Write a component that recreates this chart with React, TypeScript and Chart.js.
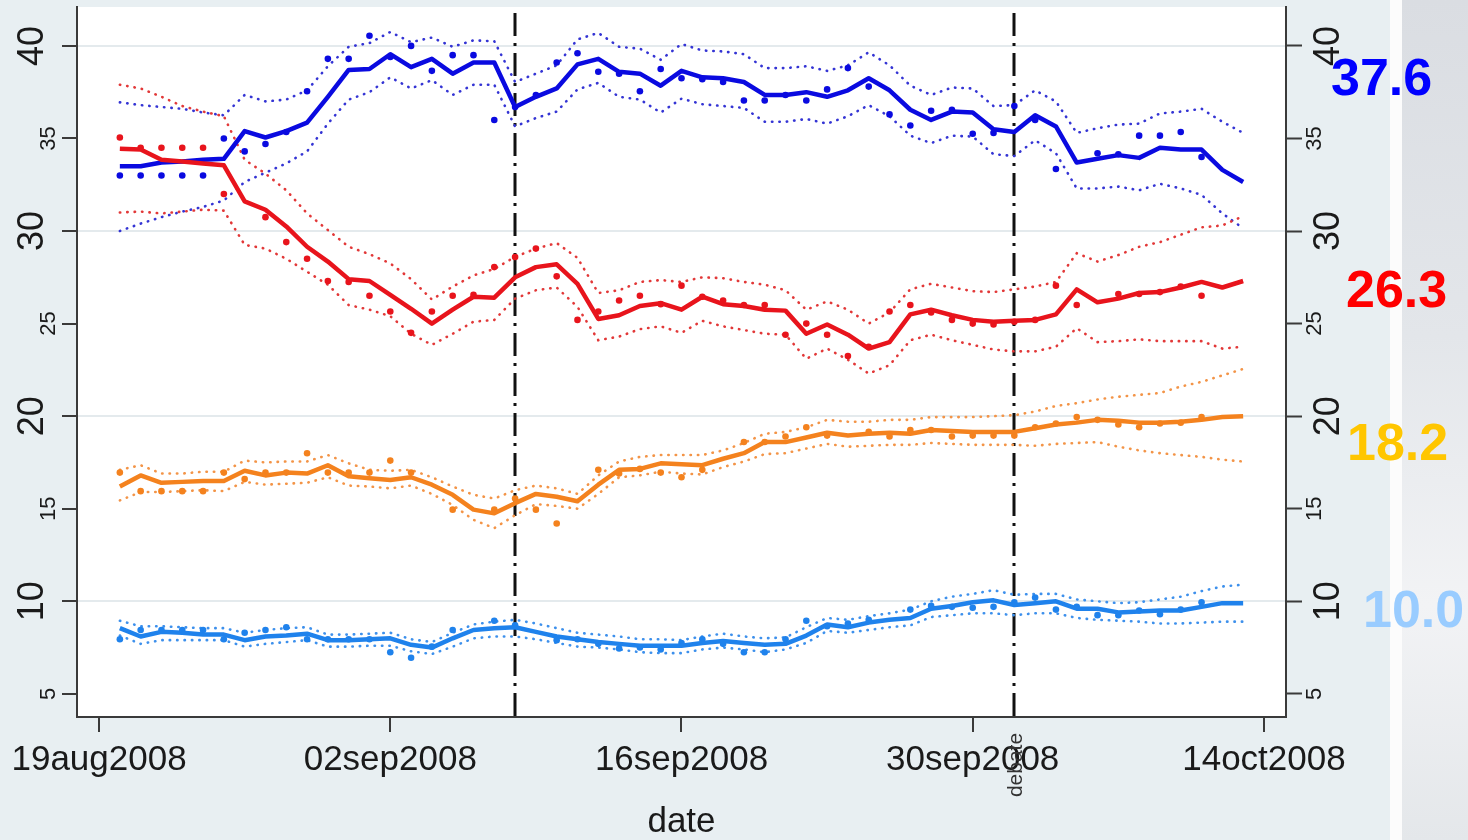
import { useEffect, useRef } from "react";
import { Chart, registerables } from "chart.js";

Chart.register(...registerables);

// ---------- DATA ----------
const pollDates = [
  "2008-08-20", "2008-08-21", "2008-08-22", "2008-08-23", "2008-08-24", "2008-08-25", "2008-08-26",
  "2008-08-27", "2008-08-28", "2008-08-29", "2008-08-30", "2008-08-31",
  "2008-09-01", "2008-09-02", "2008-09-03", "2008-09-04", "2008-09-05", "2008-09-06", "2008-09-07",
  "2008-09-08", "2008-09-09", "2008-09-10", "2008-09-11", "2008-09-12", "2008-09-13", "2008-09-14",
  "2008-09-15", "2008-09-16", "2008-09-17", "2008-09-18", "2008-09-19", "2008-09-20", "2008-09-21",
  "2008-09-22", "2008-09-23", "2008-09-24", "2008-09-25", "2008-09-26", "2008-09-27", "2008-09-28",
  "2008-09-29", "2008-09-30",
  "2008-10-01", "2008-10-02", "2008-10-03", "2008-10-04", "2008-10-05", "2008-10-06", "2008-10-07",
  "2008-10-08", "2008-10-09", "2008-10-10", "2008-10-11", "2008-10-12", "2008-10-13",
];

const tickDates = ["2008-08-19", "2008-09-02", "2008-09-16", "2008-09-30", "2008-10-14"];
const tickLabels = ["19aug2008", "02sep2008", "16sep2008", "30sep2008", "14oct2008"];
const eventDates = ["2008-09-08", "2008-10-02"];
const eventLabels = ["", "debate"];
const yTicks = [5, 10, 15, 20, 25, 30, 35, 40];
const yMajor = [10, 20, 30, 40];
const xTitle = "date";

const cpcMean = [33.5, 33.5, 33.7, 33.75, 33.85, 33.9, 35.4, 35.05, 35.4, 35.85,
  37.25, 38.7, 38.75, 39.55, 38.85, 39.3, 38.5, 39.1, 39.1, 36.7,
  37.25, 37.7, 39.0, 39.3, 38.6, 38.5, 37.85, 38.65, 38.3, 38.25,
  38.05, 37.35, 37.35, 37.5, 37.25, 37.6, 38.25, 37.6, 36.55, 36.0,
  36.45, 36.4, 35.5, 35.35, 36.25, 35.65, 33.7, 33.9, 34.1, 33.95,
  34.5, 34.4, 34.4, 33.3, 32.65];
const cpcHi = [36.95, 36.8, 36.7, 36.6, 36.4, 36.25, 37.35, 37.0, 37.1, 37.6,
  38.9, 39.95, 40.15, 40.75, 40.2, 40.45, 39.95, 40.3, 40.25, 38.05,
  38.5, 38.95, 40.35, 40.7, 39.95, 39.85, 39.25, 40.1, 39.75, 39.7,
  39.55, 38.8, 38.8, 38.9, 38.65, 38.95, 39.65, 38.95, 37.85, 37.35,
  37.75, 37.7, 36.75, 36.8, 37.6, 37.0, 35.3, 35.55, 35.75, 35.8,
  36.35, 36.45, 36.6, 35.9, 35.3];
const cpcLo = [30.0, 30.4, 30.75, 31.05, 31.3, 31.65, 32.65, 33.15, 33.65, 34.3,
  35.8, 37.1, 37.5, 38.3, 37.7, 38.15, 37.35, 37.9, 37.9, 35.65,
  36.1, 36.45, 37.65, 38.0, 37.25, 37.1, 36.4, 37.15, 36.85, 36.75,
  36.65, 35.9, 35.9, 36.05, 35.8, 36.2, 36.8, 36.2, 35.15, 34.75,
  35.15, 35.1, 34.15, 34.05, 34.9, 34.2, 32.3, 32.3, 32.4, 32.2,
  32.55, 32.3, 31.95, 30.95, 30.15];
const cpcPolls = [33, 33, 33, 33, 33, 35.0, 34.3, 34.7, 35.35, 37.55,
  39.3, 39.3, 40.55, 39.4, 40.0, 38.65, 39.5, 39.5, 36.0, 36.7,
  37.35, 39.1, 39.6, 38.6, 38.5, 37.55, 38.75, 38.25, 38.2, 38.05,
  37.05, 37.05, 37.35, 37.05, 37.65, 38.8, 37.8, 36.3, 35.7, 36.5,
  36.55, 35.25, 35.3, 36.75, 36.0, 33.35, null, 34.2, 34.15, 35.15,
  35.15, 35.35, 34.0, null, null];

const lpcMean = [34.45, 34.4, 33.85, 33.75, 33.65, 33.55, 31.6, 31.15, 30.25, 29.15,
  28.35, 27.4, 27.3, 26.55, 25.8, 25.0, 25.75, 26.45, 26.4, 27.5,
  28.05, 28.2, 27.15, 25.25, 25.45, 25.95, 26.1, 25.75, 26.45, 26.05,
  25.95, 25.75, 25.7, 24.45, 24.95, 24.4, 23.65, 24.0, 25.5, 25.75,
  25.45, 25.2, 25.1, 25.15, 25.2, 25.5, 26.85, 26.15, 26.35, 26.65,
  26.7, 26.95, 27.25, 26.95, 27.3];
const lpcHi = [37.9, 37.7, 37.25, 36.75, 36.45, 36.2, 33.85, 33.1, 32.2, 30.95,
  30.05, 29.15, 28.75, 28.25, 27.4, 26.3, 27.0, 27.6, 27.95, 28.6,
  29.05, 29.35, 28.55, 26.65, 26.8, 27.25, 27.35, 27.25, 27.5, 27.45,
  27.25, 27.1, 26.8, 25.75, 26.2, 25.75, 25.0, 25.6, 26.85, 27.15,
  26.95, 26.75, 26.7, 26.85, 27.0, 27.25, 28.8, 28.35, 28.7, 29.15,
  29.4, 29.8, 30.2, 30.3, 30.8];
const lpcLo = [31.0, 31.05, 30.95, 31.05, 31.15, 31.1, 29.25, 29.05, 28.5, 27.8,
  27.1, 26.0, 25.75, 25.4, 24.45, 23.85, 24.45, 25.1, 25.2, 26.35,
  26.8, 26.95, 25.9, 24.1, 24.3, 24.7, 24.85, 24.5, 25.15, 24.85,
  24.65, 24.45, 24.4, 23.1, 23.65, 23.05, 22.3, 22.75, 24.1, 24.4,
  24.1, 23.85, 23.6, 23.5, 23.5, 23.75, 24.75, 24.0, 24.05, 24.15,
  24.05, 24.05, 24.05, 23.65, 23.75];
const lpcPolls = [35.05, 34.5, 34.5, 34.5, 34.5, 32.0, null, 30.75, 29.4, 28.5,
  27.3, 27.25, 26.5, 25.65, 24.5, 25.65, 26.5, 26.55, 28.05, 28.6,
  29.05, 27.55, 25.2, 25.65, 26.25, 26.5, 26.05, 27.05, 26.45, 26.25,
  26.0, 26.0, 24.4, 25.0, 24.4, 23.25, 23.75, 25.65, 26.0, 25.6,
  25.2, 25.0, 24.95, 25.1, 25.2, 27.05, 26.0, null, 26.6, 26.6,
  26.7, 27.0, 26.5, null, null];

const ndpMean = [16.2, 16.8, 16.4, 16.45, 16.5, 16.5, 17.05, 16.8, 16.95, 16.9,
  17.35, 16.75, 16.65, 16.55, 16.7, 16.3, 15.75, 14.95, 14.75, 15.3,
  15.8, 15.65, 15.4, 16.3, 17.1, 17.15, 17.45, 17.4, 17.35, 17.7,
  18.0, 18.6, 18.6, 18.85, 19.1, 18.95, 19.05, 19.1, 19.05, 19.25,
  19.2, 19.15, 19.15, 19.15, 19.35, 19.55, 19.65, 19.8, 19.75, 19.65,
  19.65, 19.7, 19.8, 19.95, 20.0];
const ndpHi = [17.1, 17.35, 16.9, 16.9, 17.0, 17.0, 17.6, 17.5, 17.55, 17.55,
  17.9, 17.45, 17.1, 17.05, 17.1, 16.7, 16.2, 15.75, 15.55, 16.0,
  16.25, 16.1, 15.8, 16.8, 17.55, 17.8, 17.9, 17.9, 17.9, 18.15,
  18.55, 19.05, 19.15, 19.4, 19.8, 19.7, 19.7, 19.8, 19.8, 19.95,
  19.95, 19.95, 20.0, 20.05, 20.25, 20.55, 20.7, 20.9, 21.05, 21.15,
  21.25, 21.6, 21.85, 22.2, 22.55];
const ndpLo = [15.45, 15.9, 15.9, 15.95, 16.0, 15.95, 16.45, 16.3, 16.35, 16.4,
  16.7, 16.25, 16.2, 16.1, 16.25, 15.8, 15.2, 14.4, 13.95, 14.65,
  15.25, 15.15, 15.0, 15.8, 16.7, 16.8, 17.0, 16.9, 16.85, 17.25,
  17.55, 17.95, 18.0, 18.25, 18.5, 18.35, 18.4, 18.45, 18.45, 18.55,
  18.5, 18.45, 18.45, 18.45, 18.4, 18.5, 18.55, 18.6, 18.35, 18.15,
  18.0, 17.9, 17.8, 17.65, 17.55];
const ndpPolls = [16.95, 15.95, 15.95, 15.95, 15.95, 16.95, 16.6, 16.95, 16.95, 18.0,
  16.95, 16.95, 16.95, 17.6, 16.95, null, 14.95, null, 14.95, 15.55,
  14.95, 14.2, null, 17.1, 16.9, 17.15, 16.95, 16.7, 17.1, null,
  18.6, 18.6, 18.9, 19.4, 18.95, null, 19.15, 18.9, 19.25, 19.25,
  18.9, 18.95, 18.95, 18.95, 19.4, 19.6, 19.95, 19.8, 19.55, 19.4,
  19.6, 19.65, 19.95, null, null];

const grnMean = [8.55, 8.1, 8.35, 8.3, 8.2, 8.2, 7.9, 8.1, 8.15, 8.25,
  7.9, 7.9, 7.95, 8.0, 7.65, 7.5, 8.0, 8.45, 8.55, 8.6,
  8.35, 8.1, 7.95, 7.8, 7.7, 7.6, 7.6, 7.6, 7.75, 7.85,
  7.75, 7.65, 7.7, 8.15, 8.75, 8.6, 8.85, 9.0, 9.1, 9.6,
  9.75, 9.95, 10.05, 9.8, 9.9, 10.0, 9.6, 9.6, 9.4, 9.45,
  9.5, 9.5, 9.7, 9.9, 9.9];
const grnHi = [8.95, 8.65, 8.65, 8.6, 8.55, 8.55, 8.3, 8.45, 8.55, 8.6,
  8.2, 8.2, 8.25, 8.3, 7.95, 7.8, 8.3, 8.75, 8.9, 9.0,
  8.8, 8.55, 8.3, 8.2, 8.1, 7.95, 7.95, 7.9, 8.1, 8.25,
  8.1, 8.0, 8.05, 8.6, 9.1, 9.0, 9.2, 9.35, 9.55, 10.0,
  10.25, 10.4, 10.6, 10.35, 10.4, 10.4, 10.1, 10.0, 9.9, 9.95,
  10.1, 10.25, 10.55, 10.8, 10.9];
const grnLo = [8.15, 7.7, 7.9, 7.9, 7.9, 7.9, 7.55, 7.7, 7.8, 7.9,
  7.55, 7.55, 7.6, 7.6, 7.3, 7.15, 7.55, 8.0, 8.1, 8.1,
  7.95, 7.75, 7.55, 7.5, 7.4, 7.25, 7.2, 7.2, 7.4, 7.5,
  7.4, 7.25, 7.4, 7.75, 8.4, 8.3, 8.45, 8.6, 8.7, 9.15,
  9.25, 9.35, 9.35, 9.25, 9.35, 9.35, 9.1, 9.0, 8.95, 8.9,
  8.8, 8.8, 8.85, 8.9, 8.9];
const grnPolls = [7.95, 8.45, 8.45, 8.45, 8.45, 7.95, 8.3, 8.45, 8.6, 7.95,
  7.95, 7.95, 7.95, 7.25, 6.95, 7.55, 8.45, null, 8.95, 8.7,
  null, 7.9, 7.95, 7.7, 7.45, 7.5, 7.4, 7.75, 7.95, 7.7,
  7.25, 7.25, 7.95, 8.95, 8.65, 8.8, 9.0, null, 9.55, 9.75,
  9.7, 9.65, 9.7, 9.95, 10.2, 9.55, 9.7, 9.25, 9.25, 9.5,
  9.3, 9.55, 9.95, null, null];

const finalLabels = ["37.6", "26.3", "18.2", "10.0"];
const finalColors = ["#0000ff", "#ff0000", "#ffc600", "#99ccff"];

// ---------- STYLE ----------
const FONT = '"Liberation Sans", Arial, Helvetica, sans-serif';
const lineColors = ["#e8141c", "#0a0ae0", "#f4821e", "#1f82ec"];
const ciColors = ["#e23838", "#3434d4", "#f39447", "#3d90ec"];
const partySeries = [
  [lpcMean, lpcLo, lpcHi, lpcPolls],
  [cpcMean, cpcLo, cpcHi, cpcPolls],
  [ndpMean, ndpLo, ndpHi, ndpPolls],
  [grnMean, grnLo, grnHi, grnPolls],
];

const DAY = 86400000;
const dayOf = (s: string) => Math.round((Date.parse(s) - Date.parse(pollDates[0])) / DAY);
const toXY = (vals: (number | null)[]) => vals.map((v, i) => ({ x: dayOf(pollDates[i]), y: v }));

function buildDatasets() {
  const means: any[] = [];
  const polls: any[] = [];
  const cis: any[] = [];
  partySeries.forEach(([mean, lo, hi, pts], i) => {
    means.push({
      data: toXY(mean), borderColor: lineColors[i], borderWidth: 4.5, pointRadius: 0,
      tension: 0, fill: false, borderJoinStyle: "round",
    });
    polls.push({
      data: toXY(pts), showLine: false, pointRadius: 3.3, pointHoverRadius: 3.3,
      pointBackgroundColor: lineColors[i], pointBorderWidth: 0, borderColor: lineColors[i],
    });
    [lo, hi].forEach((arr) =>
      cis.push({
        data: toXY(arr), borderColor: ciColors[i], borderWidth: 2.6, borderDash: [0.4, 7],
        borderCapStyle: "round", pointRadius: 0, tension: 0, fill: false,
      })
    );
  });
  return [...means, ...polls, ...cis];
}

function drawRotated(ctx: CanvasRenderingContext2D, x: number, y: number, text: string, font: string, baseline: CanvasTextBaseline = "middle") {
  ctx.save();
  ctx.translate(x, y);
  ctx.rotate(-Math.PI / 2);
  ctx.font = font;
  ctx.textAlign = "center";
  ctx.textBaseline = baseline;
  ctx.fillText(text, 0, 0);
  ctx.restore();
}

const decorPlugin = {
  id: "decor",
  beforeDraw(chart: any) {
    const { ctx, chartArea: a } = chart;
    ctx.save();
    ctx.fillStyle = "#ffffff";
    ctx.fillRect(a.left, a.top, a.right - a.left, a.bottom - a.top);
    ctx.restore();
  },
  beforeDatasetsDraw(chart: any) {
    const { ctx, chartArea: a, scales } = chart;
    ctx.save();
    ctx.strokeStyle = "#111111";
    ctx.lineWidth = 3;
    ctx.setLineDash([23, 7, 3, 7]);
    eventDates.forEach((d) => {
      const x = Math.round(scales.x.getPixelForValue(dayOf(d)));
      ctx.beginPath();
      ctx.moveTo(x, a.top + 6);
      ctx.lineTo(x, a.bottom);
      ctx.stroke();
    });
    ctx.restore();
  },
  afterDraw(chart: any) {
    const { ctx, chartArea: a, scales } = chart;
    ctx.save();
    ctx.fillStyle = "#1a1a1a";
    // y tick labels (both sides), rotated
    yTicks.forEach((v) => {
      const major = yMajor.includes(v);
      const py = scales.y.getPixelForValue(v);
      const f = `${major ? 36 : 22}px ${FONT}`;
      drawRotated(ctx, a.left - (major ? 44 : 28), py, String(v), f);
      drawRotated(ctx, a.right + (major ? 43 : 29), py, String(v), f);
    });
    // x tick labels
    ctx.font = `35px ${FONT}`;
    ctx.textAlign = "center";
    ctx.textBaseline = "alphabetic";
    tickDates.forEach((d, i) => {
      ctx.fillText(tickLabels[i], scales.x.getPixelForValue(dayOf(d)), a.bottom + 53);
    });
    // axis title
    ctx.fillText(xTitle, (a.left + a.right) / 2, a.bottom + 115);
    // event labels
    ctx.fillStyle = "#333333";
    eventDates.forEach((d, i) => {
      if (!eventLabels[i]) return;
      const x = scales.x.getPixelForValue(dayOf(d));
      drawRotated(ctx, x + 8, a.bottom + 48, eventLabels[i], `21px ${FONT}`, "alphabetic");
    });
    // final values at right
    const pos = [[1331, 95], [1346, 307], [1347, 460], [1363, 627]];
    ctx.font = `bold 52px ${FONT}`;
    ctx.textAlign = "left";
    finalLabels.forEach((t, i) => {
      ctx.fillStyle = finalColors[i];
      ctx.fillText(t, pos[i][0], pos[i][1]);
    });
    ctx.restore();
  },
};

export default function App() {
  const ref = useRef<HTMLCanvasElement>(null);
  useEffect(() => {
    if (!ref.current) return;
    const xMin = dayOf(tickDates[0]) - 1.06;
    const xMax = dayOf(tickDates[tickDates.length - 1]) + 1.06;
    const yMin = 3.75;
    const yMax = 42.1;
    const axisColor = "#3a3a3a";
    const chart = new Chart(ref.current, {
      type: "line",
      data: { datasets: buildDatasets() },
      options: {
        animation: false,
        responsive: false,
        events: [],
        layout: { padding: { top: 7, left: 0, right: 0, bottom: 0 } },
        plugins: { legend: { display: false }, tooltip: { enabled: false } },
        scales: {
          x: {
            type: "linear", position: "bottom", min: xMin, max: xMax,
            afterBuildTicks: (s: any) => { s.ticks = tickDates.map((d) => ({ value: dayOf(d) })); },
            afterFit: (s: any) => { s.height = 123; },
            ticks: { display: false },
            grid: { drawOnChartArea: false, drawTicks: true, tickLength: 15, tickColor: axisColor, tickWidth: 2, lineWidth: 2 },
            border: { display: true, color: axisColor, width: 2 },
          },
          y: {
            type: "linear", position: "left", min: yMin, max: yMax,
            afterBuildTicks: (s: any) => { s.ticks = yTicks.map((v) => ({ value: v })); },
            afterFit: (s: any) => { s.width = 77; },
            ticks: { display: false },
            grid: {
              color: (c: any) => (c.tick && yMajor.includes(c.tick.value) ? "#e4eaed" : "rgba(0,0,0,0)"),
              lineWidth: 2, drawTicks: true, tickLength: 15, tickColor: axisColor, tickWidth: 2,
            },
            border: { display: true, color: axisColor, width: 2 },
          },
          y2: {
            type: "linear", position: "right", min: yMin, max: yMax,
            afterBuildTicks: (s: any) => { s.ticks = yTicks.map((v) => ({ value: v })); },
            afterFit: (s: any) => { s.width = 182; },
            ticks: { display: false },
            grid: { drawOnChartArea: false, drawTicks: true, tickLength: 16, tickColor: axisColor, tickWidth: 2 },
            border: { display: true, color: axisColor, width: 2 },
          },
        },
      } as any,
      plugins: [decorPlugin],
    });
    return () => chart.destroy();
  }, []);

  return (
    <div
      style={{
        position: "fixed", left: 0, top: 0, width: 1468, height: 840, overflow: "hidden",
        background:
          "linear-gradient(to right, #e8eff2 0px, #e8eff2 1390px, #fcfcfc 1390px, #fcfcfc 1402px, rgba(0,0,0,0) 1402px), " +
          "linear-gradient(to bottom, #dadde2 0%, #e3e6ea 40%, #f2f3f5 72%, #e4e7ea 100%)",
      }}
    >
      <canvas ref={ref} width={1468} height={840} style={{ position: "absolute", left: 0, top: 0, width: 1468, height: 840 }} />
    </div>
  );
}
